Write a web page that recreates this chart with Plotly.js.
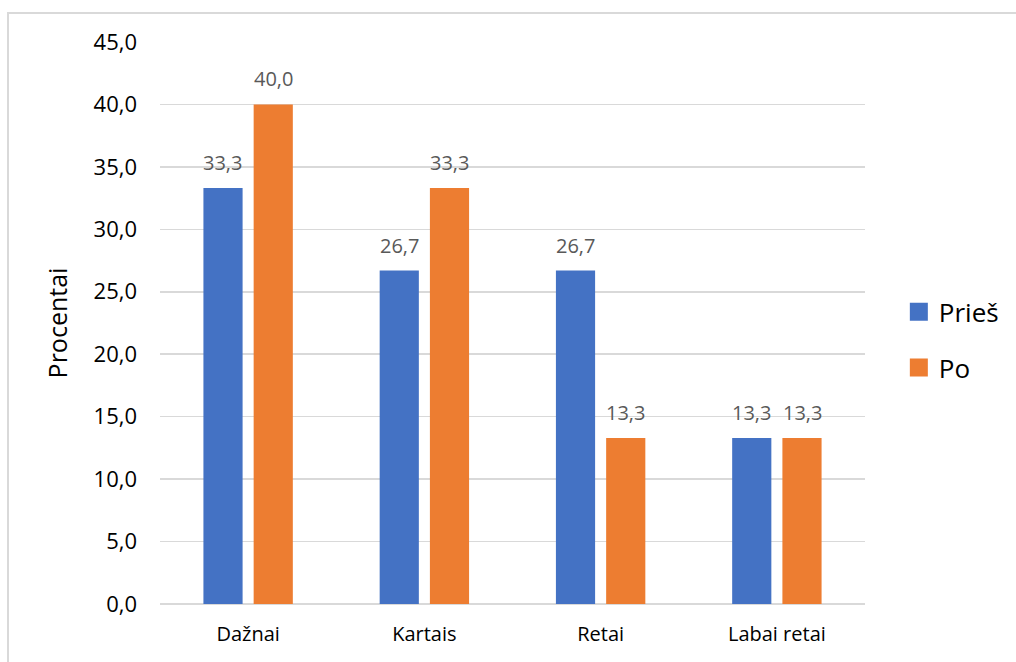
<!DOCTYPE html>
<html>
<head>
<meta charset="utf-8">
<script src="https://cdn.plot.ly/plotly-3.0.1.min.js"></script>
<style>
  html, body { margin: 0; padding: 0; background: #fff; }
  #chart { width: 1016px; height: 662px; position: relative; }
  #frame {
    position: absolute; left: 7px; top: 12px; width: 1020px; height: 660px;
    border: 2px solid #D9D9D9; box-sizing: border-box; pointer-events: none;
  }
</style>
</head>
<body>
<div id="chart"></div>
<div id="frame"></div>
<script>
// Answer frequency before and after, in percent
const categories = ['Dažnai', 'Kartais', 'Retai', 'Labai retai'];
const seriesNames = ['Prieš', 'Po'];
const priesValues = [33.3, 26.7, 26.7, 13.3];
const poValues = [40.0, 33.3, 13.3, 13.3];
const colors = ['#4472C4', '#ED7D31'];

const FONT = '"Open Sans", Lato, sans-serif';
const labelFont = { family: FONT, size: 20, color: '#595959' };

function barTrace(name, values, color, group) {
  return {
    type: 'bar',
    name: name,
    x: categories,
    y: values,
    marker: { color: color },
    legendgroup: group,
    hoverinfo: 'x+y'
  };
}

const data = [
  barTrace(seriesNames[0], priesValues, colors[0], 'a'),
  barTrace(seriesNames[1], poValues, colors[1], 'b')
];

// value labels sitting above each bar of the grouped pair
const fmt = v => v.toFixed(1).replace('.', ',');
const annotations = [];
[priesValues, poValues].forEach((vals, s) => {
  vals.forEach((v, j) => {
    annotations.push({
      x: categories[j], y: v, xref: 'x', yref: 'y',
      text: fmt(v), showarrow: false,
      xshift: s === 0 ? -25.2 : 25.2,
      yshift: 10, yanchor: 'bottom',
      font: labelFont
    });
  });
});

const layout = {
  width: 1016,
  height: 662,
  margin: { l: 160, r: 149, t: 42, b: 58 },
  paper_bgcolor: '#fff',
  plot_bgcolor: '#fff',
  separators: ',.',
  font: { family: FONT, color: '#000' },
  barmode: 'group',
  bargap: 0.43,
  bargroupgap: 0.22,
  annotations: annotations,
  xaxis: {
    type: 'category',
    showgrid: false,
    showline: false,
    zeroline: false,
    ticks: '',
    tickfont: { size: 20, color: '#000' },
    ticklabelstandoff: 16
  },
  yaxis: {
    range: [0, 45],
    dtick: 5,
    tick0: 0,
    tickformat: '.1f',
    showgrid: true,
    gridcolor: '#D9D9D9',
    gridwidth: 1.5,
    zeroline: true,
    zerolinecolor: '#D9D9D9',
    zerolinewidth: 1.5,
    showline: false,
    ticks: '',
    tickfont: { size: 22, color: '#000' },
    ticklabelstandoff: 22,
    title: { text: 'Procentai', font: { size: 25, color: '#000' }, standoff: 18 }
  },
  legend: {
    x: 1.048,
    xanchor: 'left',
    y: 0.47,
    yanchor: 'middle',
    font: { size: 26, color: '#000' },
    tracegroupgap: 19,
    traceorder: 'grouped',
    bgcolor: 'rgba(0,0,0,0)'
  },
  showlegend: true
};

Plotly.newPlot('chart', data, layout, { displayModeBar: false, staticPlot: true }).then(gd => {
  // larger square swatches in the legend (keeps Plotly's own offset transform)
  gd.querySelectorAll('.legendpoints path').forEach(p => {
    p.setAttribute('d', 'M9,9H-9V-9H9Z');
  });
});
</script>
</body>
</html>
